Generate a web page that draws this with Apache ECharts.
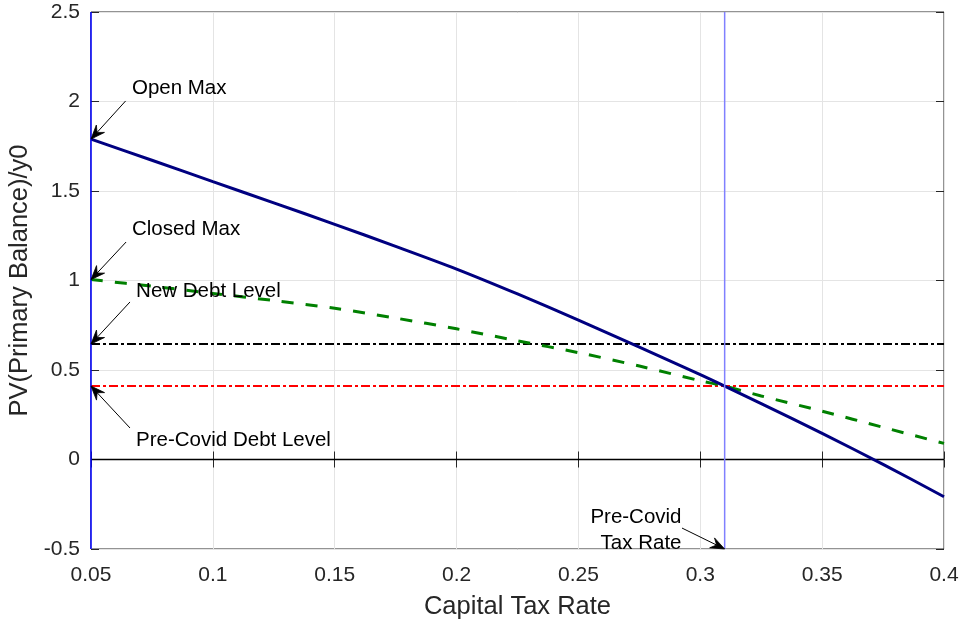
<!DOCTYPE html>
<html><head><meta charset="utf-8">
<script src="https://cdn.jsdelivr.net/npm/echarts@6/dist/echarts.min.js"></script>
<style>html,body{margin:0;padding:0;background:#fff}#c{width:963px;height:624px}</style>
</head><body><div id="c"></div>
<script>
// ---- data ----
const taxRates  = [0.05, 0.075, 0.1, 0.125, 0.15, 0.175, 0.2, 0.225, 0.25, 0.275, 0.3, 0.31, 0.325, 0.35, 0.375, 0.4];
const openPV    = [1.79, 1.672, 1.552, 1.434, 1.314, 1.191, 1.064, 0.925, 0.779, 0.628, 0.474, 0.41, 0.312, 0.146, -0.027, -0.208];
const closedPV  = [1.005, 0.968, 0.928, 0.888, 0.845, 0.79, 0.73, 0.663, 0.597, 0.522, 0.44, 0.41, 0.355, 0.27, 0.18, 0.09];
const newDebtLevel = 0.645;
const preCovidDebtLevel = 0.41;
const preCovidTaxRate = 0.31;
const xTicks = [0.05, 0.1, 0.15, 0.2, 0.25, 0.3, 0.35, 0.4];
const yTicks = [-0.5, 0, 0.5, 1, 1.5, 2, 2.5];
const annotationTexts = ['Open Max', 'Closed Max', 'New Debt Level', 'Pre-Covid Debt Level', 'Pre-Covid', 'Tax Rate'];

const xMin = xTicks[0], xMax = xTicks[xTicks.length - 1];
const yMin = yTicks[0], yMax = yTicks[yTicks.length - 1];
const FONT = 'Liberation Sans, Arial, Helvetica, sans-serif';
const AX = '#262626';

const chart = echarts.init(document.getElementById('c'));
const pairs = (xs, ys) => xs.map((x, i) => [x, ys[i]]);

// arrows: [fromX, fromY, toX, toY] in data space
const arrowLines = [
  [0.0642, 2.003, taxRates[0], openPV[0]],
  [0.0644, 1.215, taxRates[0], closedPV[0]],
  [0.0660, 0.880, xMin, newDebtLevel],
  [0.0660, 0.176, xMin, preCovidDebtLevel],
  [0.2925, -0.383, preCovidTaxRate, yMin]
];
const textPoints = [
  {name: annotationTexts[0], coord: [0.0668, 2.075]},
  {name: annotationTexts[1], coord: [0.0668, 1.288]},
  {name: annotationTexts[2], coord: [0.0685, 0.941]},
  {name: annotationTexts[3], coord: [0.0685, 0.109]},
  {name: annotationTexts[4], coord: [0.2736, -0.321], label: {position: 'inside'}},
  {name: annotationTexts[5], coord: [0.2757, -0.466], label: {position: 'inside'}}
];

function renderArrow(params, api) {
  const p1 = api.coord([api.value(0), api.value(1)]);
  const p2 = api.coord([api.value(2), api.value(3)]);
  const dx = p2[0] - p1[0], dy = p2[1] - p1[1];
  const len = Math.hypot(dx, dy) || 1;
  const ux = dx / len, uy = dy / len, nx = -uy, ny = ux;
  const L = 14, W = 5.5, N = 9;
  const back1 = [p2[0] - ux * L + nx * W, p2[1] - uy * L + ny * W];
  const back2 = [p2[0] - ux * L - nx * W, p2[1] - uy * L - ny * W];
  const notch = [p2[0] - ux * N, p2[1] - uy * N];
  return {
    type: 'group',
    children: [
      {type: 'line', shape: {x1: p1[0], y1: p1[1], x2: notch[0], y2: notch[1]},
        style: {stroke: '#000', lineWidth: 1}},
      {type: 'polygon', shape: {points: [p2, back1, notch, back2]},
        style: {fill: '#000', stroke: '#000', lineWidth: 0.8}}
    ]
  };
}

const baseX = {
  type: 'value', min: xMin, max: xMax, interval: 0.05,
  axisLine: {show: false},
  axisTick: {show: true, inside: true, length: 8, lineStyle: {color: AX, width: 1}},
};
const baseY = {
  type: 'value', min: yMin, max: yMax, interval: 0.5,
  axisLine: {show: false},
  axisTick: {show: true, inside: true, length: 8, lineStyle: {color: AX, width: 1}},
};

chart.setOption({
  animation: false,
  backgroundColor: '#fff',
  grid: {left: 91, right: 19, top: 12, bottom: 75, show: true, borderColor: AX, borderWidth: 1,
    backgroundColor: 'transparent', containLabel: false, outerBoundsMode: 'none'},
  xAxis: [
    Object.assign({}, baseX, {
      position: 'bottom',
      name: 'Capital Tax Rate', nameLocation: 'middle', nameGap: 45,
      nameTextStyle: {fontFamily: FONT, fontSize: 25.5, color: AX},
      axisLabel: {fontFamily: FONT, fontSize: 21, color: AX, margin: 16,
        formatter: v => String(+v.toFixed(2))},
      splitLine: {show: true, lineStyle: {color: '#e4e4e4', width: 1}}
    }),
    Object.assign({}, baseX, {position: 'top', axisLabel: {show: false}, splitLine: {show: false}})
  ],
  yAxis: [
    Object.assign({}, baseY, {
      position: 'left',
      name: 'PV(Primary Balance)/y0', nameLocation: 'middle', nameGap: 44, nameRotate: 90,
      nameTextStyle: {fontFamily: FONT, fontSize: 25.5, color: AX},
      axisLabel: {fontFamily: FONT, fontSize: 21, color: AX, margin: 11,
        formatter: v => String(+v.toFixed(2))},
      splitLine: {show: true, lineStyle: {color: '#e4e4e4', width: 1}}
    }),
    Object.assign({}, baseY, {position: 'right', axisLabel: {show: false}, splitLine: {show: false}})
  ],
  series: [
    {type: 'line', name: 'zero', data: [[xMin, 0], [xMax, 0]], showSymbol: false, silent: true,
      lineStyle: {color: '#000', width: 1.5}, z: 2},
    {type: 'line', name: 'Pre-Covid Debt Level', data: [[xMin, preCovidDebtLevel], [xMax, preCovidDebtLevel]], showSymbol: false,
      lineStyle: {color: '#ff0000', width: 2, type: [9, 3, 3, 3]}, z: 3},
    {type: 'line', name: 'New Debt Level', data: [[xMin, newDebtLevel], [xMax, newDebtLevel]], showSymbol: false,
      lineStyle: {color: '#000000', width: 2, type: [9, 3, 3, 3]}, z: 3},
    {type: 'line', name: 'Closed', data: pairs(taxRates, closedPV), showSymbol: false, smooth: 0.3,
      lineStyle: {color: '#008000', width: 3, type: [12, 12]}, z: 4},
    {type: 'line', name: 'Open', data: pairs(taxRates, openPV), showSymbol: false, smooth: 0.3,
      lineStyle: {color: '#000080', width: 3}, z: 5},
    {type: 'line', name: 'Pre-Covid Tax Rate', data: [[preCovidTaxRate, yMin], [preCovidTaxRate, yMax]], showSymbol: false,
      lineStyle: {color: '#8080ff', width: 1.5}, z: 6},
    {type: 'line', name: 'left', data: [[xMin, yMin], [xMin, yMax]], showSymbol: false,
      lineStyle: {color: '#0000ff', width: 1.5}, z: 6},
    {type: 'custom', name: 'arrows', silent: true, z: 10, clip: false,
      encode: {x: [0, 2], y: [1, 3]},
      renderItem: renderArrow,
      data: arrowLines},
    {type: 'line', name: 'annotations', data: [], showSymbol: false, z: 11,
      markPoint: {
        silent: true, animation: false,
        symbol: 'circle', symbolSize: 0,
        label: {show: true, position: 'right', distance: 0, formatter: '{b}',
          fontFamily: FONT, fontSize: 20.5, color: '#000'},
        data: textPoints
      }
    }
  ]
});
</script></body></html>
